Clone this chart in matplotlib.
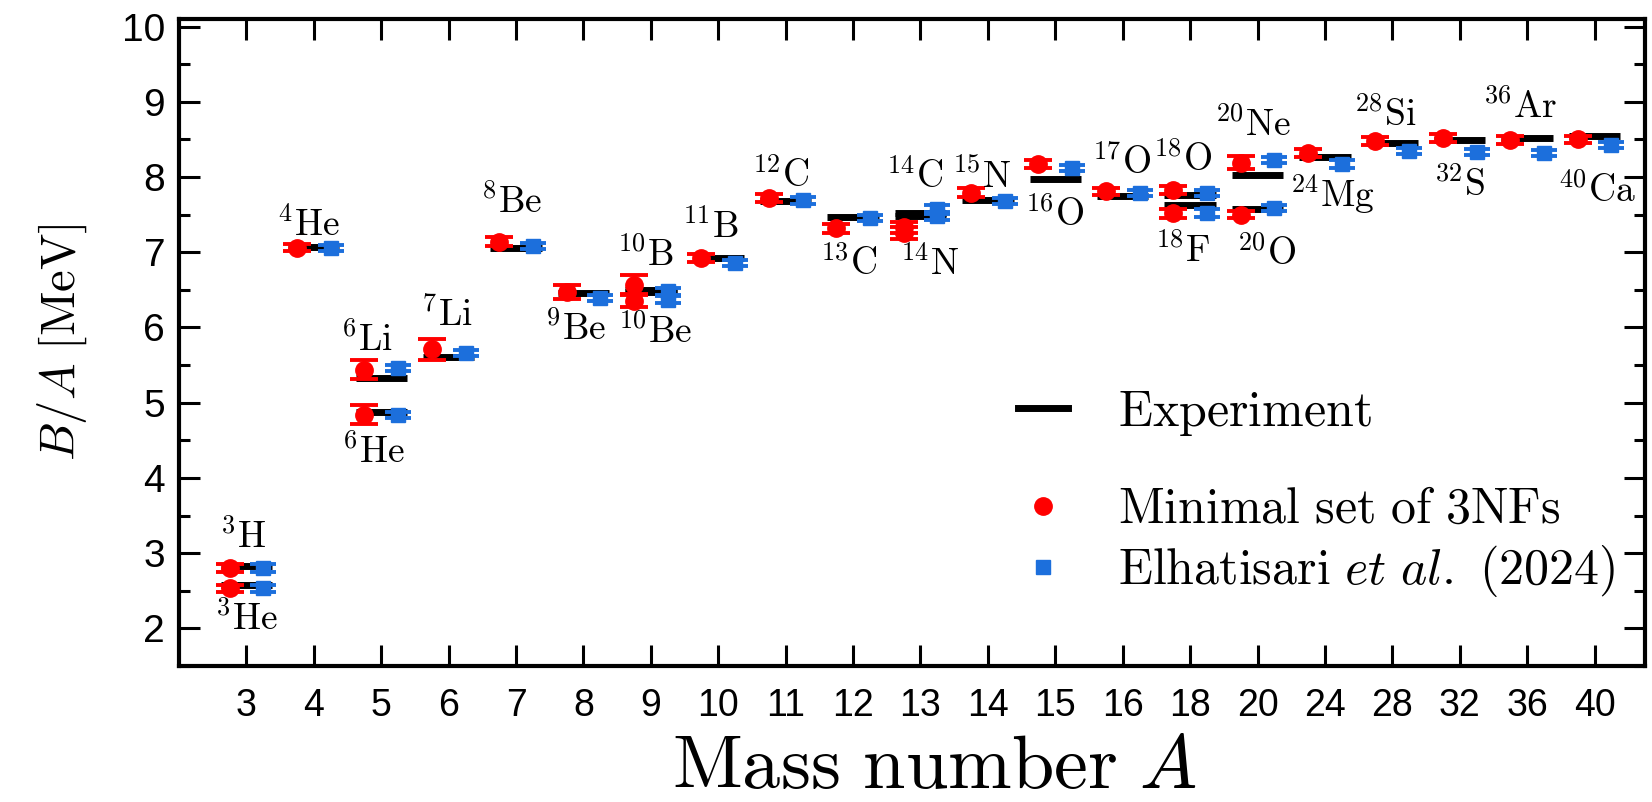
import matplotlib
matplotlib.use("Agg")
import matplotlib.pyplot as plt
from matplotlib.lines import Line2D
from matplotlib.ticker import MultipleLocator
import numpy as np

plt.rcParams['mathtext.fontset'] = 'cm'
plt.rcParams['font.family'] = ['Liberation Sans', 'DejaVu Sans']

# x categories (tick labels)
mass_ticks = [3, 4, 5, 6, 7, 8, 9, 10, 11, 12, 13, 14, 15, 16, 18, 20, 24, 28, 32, 36, 40]

# nuclei, their column on the x axis, and B/A values [MeV]
nuclei = ['3H', '3He', '4He', '6Li', '6He', '7Li', '8Be', '9Be', '10B', '10Be', '11B',
          '12C', '13C', '14C', '14N', '15N', '16O', '17O', '18O', '18F', '20Ne', '20O',
          '24Mg', '28Si', '32S', '36Ar', '40Ca']
column = [0, 0, 1, 2, 2, 3, 4, 5, 6, 6, 7, 8, 9, 10, 10, 11, 12, 13, 14, 14, 15, 15,
          16, 17, 18, 19, 20]
experiment = [2.827, 2.573, 7.074, 5.332, 4.878, 5.606, 7.062, 6.463, 6.475, 6.498, 6.928,
              7.680, 7.470, 7.520, 7.476, 7.699, 7.976, 7.751, 7.767, 7.632, 8.032, 7.569,
              8.261, 8.448, 8.493, 8.520, 8.551]
minimal = [2.80, 2.53, 7.06, 5.44, 4.84, 5.71, 7.14, 6.47, 6.57, 6.35, 6.92,
           7.72, 7.32, 7.33, 7.26, 7.79, 8.17, 7.81, 7.83, 7.52, 8.19, 7.50,
           8.32, 8.48, 8.52, 8.49, 8.50]
minimal_err = [0.05, 0.05, 0.05, 0.13, 0.13, 0.14, 0.06, 0.09, 0.13, 0.08, 0.05,
               0.05, 0.06, 0.07, 0.08, 0.06, 0.05, 0.05, 0.05, 0.06, 0.09, 0.05,
               0.05, 0.05, 0.05, 0.05, 0.05]
elhatisari = [2.80, 2.53, 7.05, 5.46, 4.84, 5.66, 7.08, 6.39, 6.48, 6.37, 6.86,
              7.69, 7.46, 7.57, 7.48, 7.68, 8.12, 7.79, 7.79, 7.52, 8.23, 7.59,
              8.17, 8.34, 8.33, 8.32, 8.43]
elhatisari_err = [0.05, 0.05, 0.04, 0.04, 0.04, 0.04, 0.04, 0.04, 0.05, 0.05, 0.04,
                  0.05, 0.04, 0.06, 0.05, 0.04, 0.04, 0.04, 0.04, 0.05, 0.04, 0.04,
                  0.05, 0.04, 0.04, 0.04, 0.04]

# where the nuclide names go (data coords)
label_x = [-0.05, 0.0, 0.92, 1.79, 1.89, 2.98, 3.94, 4.88, 5.92, 6.07, 6.88,
           7.92, 8.93, 9.92, 10.14, 10.9, 11.99, 12.98, 13.89, 13.89, 14.93, 15.13,
           16.11, 16.9, 18.0, 18.9, 20.04]
label_y = [3.21, 2.12, 7.35, 5.82, 4.33, 6.15, 7.66, 5.97, 6.95, 5.93, 7.32,
           8.01, 6.84, 7.99, 6.84, 7.99, 7.48, 8.17, 8.21, 7.01, 8.68, 6.97,
           7.77, 8.81, 7.88, 8.92, 7.81]


def nuc_label(name):
    num = ''.join(c for c in name if c.isdigit())
    sym = ''.join(c for c in name if c.isalpha())
    return r"$^{%s}\mathrm{%s}$" % (num, sym)


red = '#ff0000'
blue = '#1c6fdc'

x = np.array(column, dtype=float)

fig = plt.figure(figsize=(16.52, 8.02), dpi=100)
ax = fig.add_axes([0.1084, 0.1696, 0.8874, 0.8067])

ax.hlines(experiment, x - 0.38, x + 0.38, color='black', lw=5, zorder=2)
ax.errorbar(x - 0.25, minimal, yerr=minimal_err, fmt='o', color=red, ms=12.5,
            capsize=10, capthick=2.8, elinewidth=2.5, zorder=3)
ax.errorbar(x + 0.25, elhatisari, yerr=elhatisari_err, fmt='s', color=blue, ms=9.5,
            capsize=9.5, capthick=2.8, elinewidth=2.5, zorder=3)

for name, lx, ly in zip(nuclei, label_x, label_y):
    ax.text(lx, ly, nuc_label(name), fontsize=27, ha='center', va='center')

ax.set_xlim(-1, 20.75)
ax.set_ylim(1.5, 10.1)
ax.set_xticks(range(len(mass_ticks)))
ax.set_xticklabels([str(m) for m in mass_ticks])
ax.yaxis.set_major_locator(MultipleLocator(1))
ax.yaxis.set_minor_locator(MultipleLocator(0.5))
ax.tick_params(which='both', direction='in', top=True, right=True)
ax.tick_params(which='major', length=15, width=2.2)
ax.tick_params(which='minor', length=8, width=2.2)
ax.tick_params(axis='y', labelsize=28, pad=10)
ax.tick_params(axis='x', labelsize=27, pad=16)
ax.tick_params(axis='x', which='minor', top=False, bottom=False)
for s in ax.spines.values():
    s.set_linewidth(3)

ax.set_xlabel(r"$\mathrm{Mass\ number}\ A$", fontsize=55)
ax.xaxis.set_label_coords(0.515, -0.103)
ax.set_ylabel(r"$B/A\ [\mathrm{MeV}]$", fontsize=35, labelpad=24)

# legend
h_exp = Line2D([], [], color='black', lw=5)
h_min = Line2D([], [], color=red, marker='o', ls='none', ms=12.5)
h_elh = Line2D([], [], color=blue, marker='s', ls='none', ms=9.5)
leg1 = ax.legend([h_exp], [r"$\mathrm{Experiment}$"], loc='center left',
                 bbox_to_anchor=(0.572, 0.391), frameon=False, fontsize=36,
                 handlelength=1.0, handletextpad=1.0, borderpad=0, borderaxespad=0)
ax.add_artist(leg1)
ax.legend([h_min, h_elh],
          [r"$\mathrm{Minimal\ set\ of\ 3NFs}$", r"$\mathrm{Elhatisari}\ \mathit{et\ al.}\ \mathrm{(2024)}$"],
          loc='center left', bbox_to_anchor=(0.572, 0.19), frameon=False, fontsize=36,
          handlelength=1.0, handletextpad=1.0, borderpad=0, borderaxespad=0,
          labelspacing=0.2, numpoints=1)

fig.savefig('out.png', dpi=100)
